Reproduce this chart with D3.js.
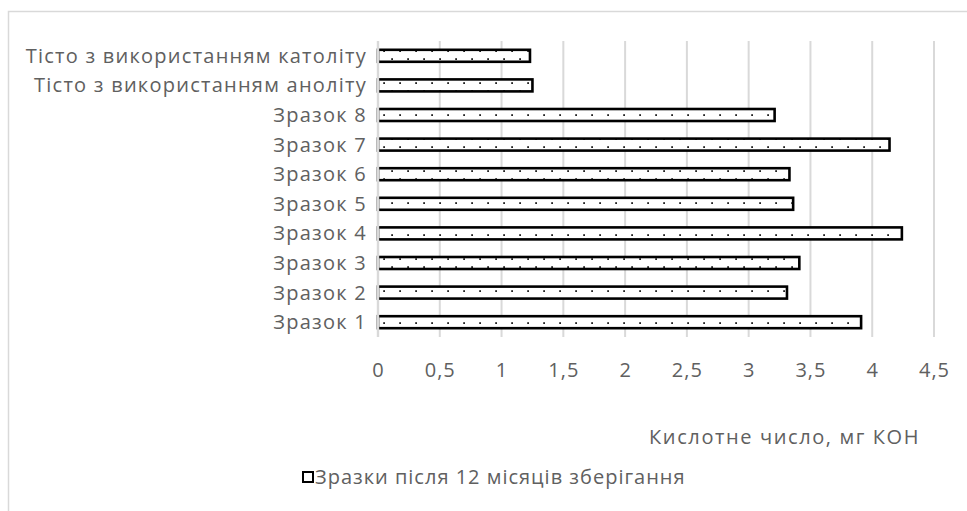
<!DOCTYPE html>
<html>
<head>
<meta charset="utf-8">
<script src="https://cdn.jsdelivr.net/npm/d3@7"></script>
<style>
  html, body { margin: 0; padding: 0; background: #fff; }
  svg { display: block; }
  text { font-family: "Open Sans", sans-serif; fill: #606060; font-size: 20px; letter-spacing: 1px; }
</style>
</head>
<body>
<svg id="chart" width="967" height="511"></svg>
<script>
// Categories listed top to bottom as they appear on the vertical axis
const categories = [
  "Тісто з використанням католіту",
  "Тісто з використанням аноліту",
  "Зразок 8",
  "Зразок 7",
  "Зразок 6",
  "Зразок 5",
  "Зразок 4",
  "Зразок 3",
  "Зразок 2",
  "Зразок 1"
];
// Acid number after 12 months of storage, same order as categories
const values = [1.23, 1.25, 3.21, 4.14, 3.33, 3.36, 4.24, 3.41, 3.31, 3.91];
const tickValues = [0, 0.5, 1, 1.5, 2, 2.5, 3, 3.5, 4, 4.5];
const tickLabels = ["0", "0,5", "1", "1,5", "2", "2,5", "3", "3,5", "4", "4,5"];
const seriesName = "Зразки після 12 місяців зберігання";
const axisTitle = "Кислотне число, мг КОН";

const svg = d3.select("#chart");

// Chart frame
svg.append("rect")
  .attr("x", 8.5).attr("y", 11.5)
  .attr("width", 1000).attr("height", 600)
  .attr("fill", "#fff")
  .attr("stroke", "#d9d9d9")
  .attr("stroke-width", 1.5);

const plot = { left: 378, right: 934, top: 41, bottom: 337 };

const x = d3.scaleLinear().domain([0, 4.5]).range([plot.left, plot.right]);
const y = d3.scaleBand().domain(categories).range([plot.top, plot.bottom]).paddingInner(0.595).paddingOuter(0.2975);

// Dotted fill pattern for the bars
const defs = svg.append("defs");
const pat = defs.append("pattern")
  .attr("id", "dots")
  .attr("patternUnits", "userSpaceOnUse")
  .attr("x", 0).attr("y", 3)
  .attr("width", 16).attr("height", 16);
pat.append("rect").attr("width", 16).attr("height", 16).attr("fill", "#fff");
[[7.2, 7.2], [-0.8, -0.8], [15.2, -0.8], [-0.8, 15.2], [15.2, 15.2]].forEach(([px, py]) => {
  pat.append("rect").attr("x", px).attr("y", py).attr("width", 1.8).attr("height", 1.8).attr("fill", "#222");
});

// Vertical gridlines
svg.append("g")
  .selectAll("line")
  .data(tickValues.slice(1))
  .join("line")
  .attr("x1", d => x(d)).attr("x2", d => x(d))
  .attr("y1", plot.top).attr("y2", plot.bottom)
  .attr("stroke", "#d9d9d9")
  .attr("stroke-width", 2);

// Bars
const data = categories.map((c, i) => ({ c, v: values[i] }));
svg.append("g")
  .selectAll("rect")
  .data(data)
  .join("rect")
  .attr("x", x(0))
  .attr("y", d => y(d.c))
  .attr("width", d => x(d.v) - x(0))
  .attr("height", y.bandwidth())
  .attr("fill", "url(#dots)")
  .attr("stroke", "#000")
  .attr("stroke-width", 2.6);

// Vertical category axis line
svg.append("line")
  .attr("x1", x(0)).attr("x2", x(0))
  .attr("y1", plot.top).attr("y2", plot.bottom)
  .attr("stroke", "#d9d9d9")
  .attr("stroke-width", 2.4);

// Category labels
svg.append("g")
  .selectAll("text")
  .data(categories)
  .join("text")
  .attr("x", 367)
  .attr("y", d => y(d) + y.bandwidth() / 2)
  .attr("dy", "0.35em")
  .attr("text-anchor", "end")
  .style("letter-spacing", "1.25px")
  .text(d => d);

// Value axis tick labels
const xAxis = d3.axisBottom(x)
  .tickValues(tickValues)
  .tickFormat((d, i) => tickLabels[i])
  .tickSize(0)
  .tickPadding(0);
const gx = svg.append("g")
  .attr("transform", `translate(0, 363)`)
  .call(xAxis);
gx.select(".domain").remove();
gx.selectAll("text")
  .attr("dy", "0.71em")
  .style("font-size", "20px")
  .style("font-family", "'Open Sans', sans-serif")
  .attr("fill", "#606060");

// Axis title
svg.append("text")
  .attr("x", 920)
  .attr("y", 437)
  .attr("dy", "0.35em")
  .attr("text-anchor", "end")
  .style("letter-spacing", "1.6px")
  .text(axisTitle);

// Legend
const legend = svg.append("g").attr("transform", "translate(302, 477)");
legend.append("rect")
  .attr("x", 1).attr("y", -5)
  .attr("width", 10).attr("height", 10)
  .attr("fill", "url(#dots)")
  .attr("stroke", "#000")
  .attr("stroke-width", 2);
legend.append("text")
  .attr("x", 13)
  .attr("y", 0)
  .attr("dy", "0.35em")
  .text(seriesName);
</script>
</body>
</html>
